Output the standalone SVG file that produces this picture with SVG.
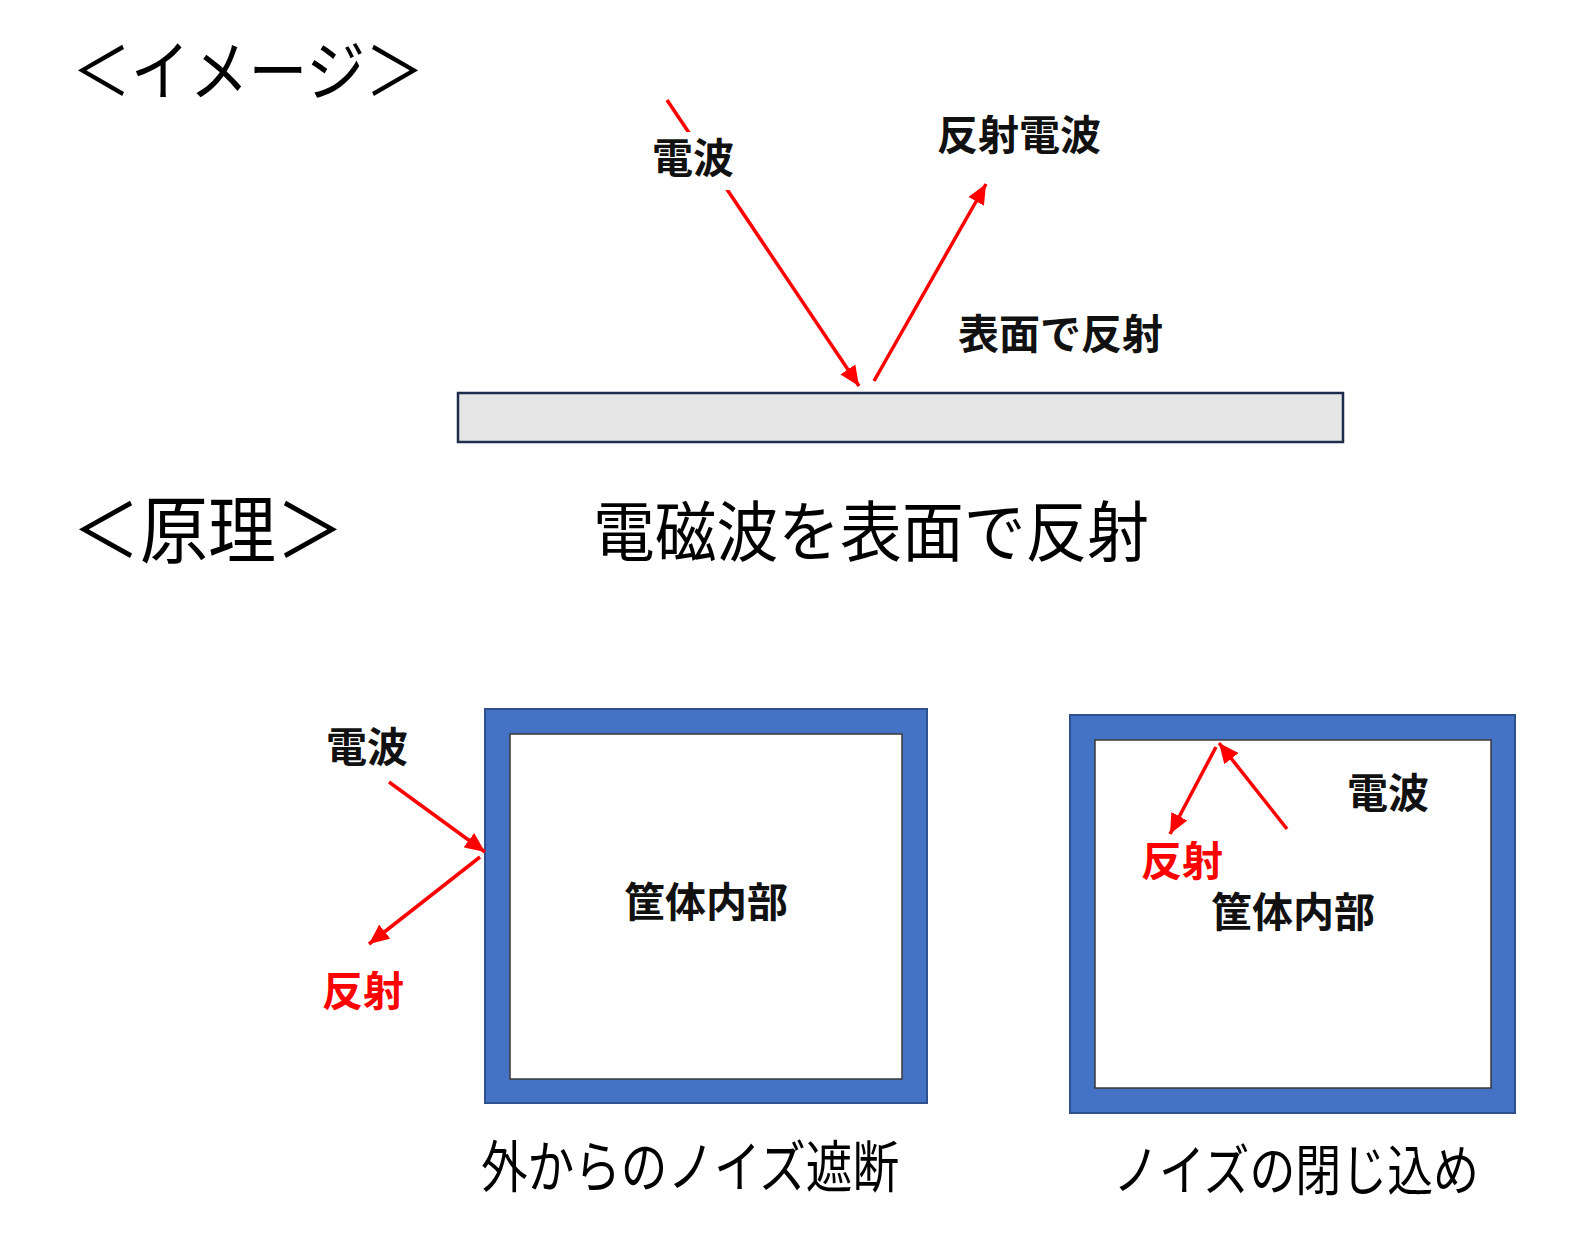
<svg xmlns="http://www.w3.org/2000/svg" width="1572" height="1242" viewBox="0 0 1572 1242">
<style>
.h{font-family:"Noto Sans CJK JP","Noto Sans",sans-serif;font-weight:400;fill:#000}
.lb{font-family:"Noto Sans CJK JP","Noto Sans",sans-serif;font-weight:700;font-size:41px;fill:#111}
.red{fill:#ff0000}
.ar{stroke:#ff0000;stroke-width:3.5;fill:none;marker-end:url(#ah)}
.case-out{fill:#4472c4;stroke:#2f528f;stroke-width:2}
.case-in{fill:#fff;stroke:#3a3a3a;stroke-width:1.5}
</style>
<defs>
<marker id="ah" markerUnits="userSpaceOnUse" markerWidth="22" markerHeight="18" refX="20" refY="9" orient="auto">
<path d="M0,0 L20,9 L0,18 Z" fill="#ff0000"/>
</marker>
</defs>
<rect width="1572" height="1242" fill="#fff"/>

<g id="title-image"><text class="h" x="72" y="95" font-size="66" textLength="352" lengthAdjust="spacingAndGlyphs">＜イメージ＞</text></g>
<g id="title-principle"><text class="h" x="72" y="557" font-size="74" textLength="272" lengthAdjust="spacingAndGlyphs">＜原理＞</text></g>
<g id="caption-main"><text class="h" x="593" y="556" font-size="66" textLength="556" lengthAdjust="spacingAndGlyphs">電磁波を表面で反射</text></g>

<g id="surface"><rect x="458" y="393" width="885" height="49" fill="#e6e6e6" stroke="#1f2d4d" stroke-width="2.5"/></g>

<g id="case1">
<rect class="case-out" x="485" y="709" width="442" height="394"/>
<rect class="case-in" x="510" y="734" width="392" height="345"/>
<text class="lb" x="706" y="917" font-size="38" text-anchor="middle">筐体内部</text>
</g>
<g id="case2">
<rect class="case-out" x="1070" y="715" width="445" height="398"/>
<rect class="case-in" x="1095" y="740" width="396" height="348"/>
<text class="lb" x="1293" y="927" font-size="38" text-anchor="middle">筐体内部</text>
</g>

<g id="connectors">
<line class="ar" x1="667" y1="100" x2="859" y2="386"/>
<line class="ar" x1="874" y1="381" x2="986" y2="184"/>
<line class="ar" x1="389" y1="782" x2="485" y2="852"/>
<line class="ar" x1="480" y1="857" x2="369" y2="944"/>
<line class="ar" x1="1287" y1="829" x2="1219" y2="743"/>
<line class="ar" x1="1216" y1="747" x2="1170" y2="834"/>
</g>

<g id="label-wave-top"><rect x="648" y="132" width="90" height="58" fill="#fff"/><text class="lb" x="652" y="173">電波</text></g>
<g id="label-reflected-wave"><text class="lb" x="937" y="150">反射電波</text></g>
<g id="label-surface-reflect"><text class="lb" x="958" y="349">表面で反射</text></g>
<g id="label-wave1"><text class="lb" x="326" y="762" font-size="38">電波</text></g>
<g id="label-reflect1"><text class="lb red" x="322" y="1006" font-size="38">反射</text></g>
<g id="label-wave2"><text class="lb" x="1347" y="808" font-size="38">電波</text></g>
<g id="label-reflect2"><text class="lb red" x="1141" y="876" font-size="38">反射</text></g>

<g id="caption-left"><text class="h" x="481" y="1187" font-size="56" textLength="418" lengthAdjust="spacingAndGlyphs">外からのノイズ遮断</text></g>
<g id="caption-right"><text class="h" x="1113" y="1190" font-size="55" textLength="366" lengthAdjust="spacingAndGlyphs">ノイズの閉じ込め</text></g>
</svg>
